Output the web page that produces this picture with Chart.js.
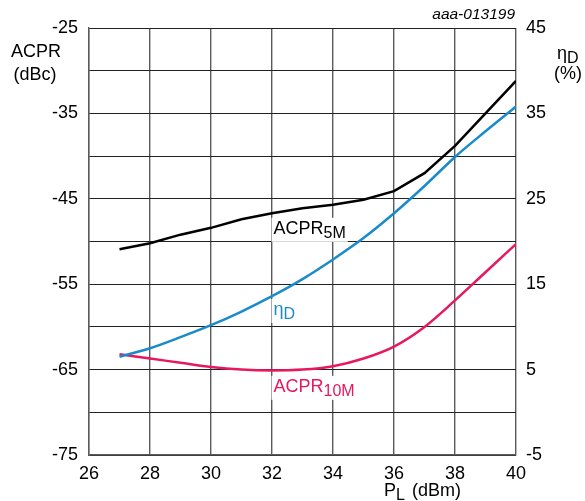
<!DOCTYPE html>
<html>
<head>
<meta charset="utf-8">
<script src="https://cdn.jsdelivr.net/npm/chart.js@4/dist/chart.umd.min.js"></script>
<style>
  html, body { margin: 0; padding: 0; background: #fff; }
</style>
</head>
<body>
<canvas id="chart" width="585" height="501"></canvas>
<script>
// output power PL (dBm)
const powerLevels = [27, 28, 29, 30, 31, 32, 33, 34, 35, 36, 37, 38, 39, 40];
// ACPR 5 MHz (dBc)
const acpr5M = [-50.9, -50.2, -49.2, -48.4, -47.4, -46.7, -46.1, -45.7, -45.1, -44.1, -42.0, -38.8, -35.0, -31.2];
// ACPR 10 MHz (dBc)
const acpr10M = [-63.2, -63.7, -64.2, -64.7, -65.0, -65.1, -65.0, -64.6, -63.7, -62.3, -60.0, -56.9, -53.6, -50.3];
// drain efficiency (%)
const drainEff = [6.5, 7.5, 8.8, 10.2, 11.8, 13.6, 15.6, 17.9, 20.4, 23.3, 26.5, 29.9, 32.9, 35.8];

const xTicks = [26, 28, 30, 32, 34, 36, 38, 40];
const acprTicks = [-75, -65, -55, -45, -35, -25];
const effTicks = [-5, 5, 15, 25, 35, 45];

const FONT = "Liberation Sans, Arial, sans-serif";
const gridColor = "#5a5a5a";

function toPoints(ys) {
  return powerLevels.map((x, i) => ({ x: x, y: ys[i] }));
}

// text with optional subscript, white box behind when asked
function drawSub(ctx, x, y, main, sub, color, size, box) {
  ctx.save();
  ctx.font = size + "px " + FONT;
  const w1 = ctx.measureText(main).width;
  ctx.font = (size - 2) + "px " + FONT;
  const w2 = sub ? ctx.measureText(sub).width : 0;
  if (box) {
    ctx.fillStyle = "#fff";
    ctx.fillRect(x - 2, y - size + 2, w1 + w2 + 4, size + 6);
  }
  ctx.fillStyle = color;
  ctx.textBaseline = "alphabetic";
  ctx.textAlign = "left";
  ctx.font = size + "px " + FONT;
  ctx.fillText(main, x, y);
  if (sub) {
    ctx.font = (size - 2) + "px " + FONT;
    ctx.fillText(sub, x + w1, y + 4);
  }
  ctx.restore();
}

const labelsPlugin = {
  id: "labels",
  afterDatasetsDraw(chart) {
    const ctx = chart.ctx;
    const xs = chart.scales.x;
    const ys = chart.scales.y;
    // series labels placed in data space
    drawSub(ctx, xs.getPixelForValue(32.05), ys.getPixelForValue(-49.1), "ACPR", "5M", "#000", 18, true);
    drawSub(ctx, xs.getPixelForValue(32.05), ys.getPixelForValue(-58.6), "η", "D", "#1a8bc9", 18, true);
    drawSub(ctx, xs.getPixelForValue(32.05), ys.getPixelForValue(-67.6), "ACPR", "10M", "#e8185f", 18, true);
  },
  afterDraw(chart) {
    const ctx = chart.ctx;
    ctx.save();
    ctx.fillStyle = "#000";
    ctx.font = "italic 15.5px " + FONT;
    ctx.textAlign = "right";
    ctx.textBaseline = "middle";
    ctx.fillText("aaa-013199", 515, 15);

    ctx.font = "18px " + FONT;
    ctx.textAlign = "center";
    ctx.fillText("ACPR", 36, 52);
    ctx.fillText("(dBc)", 35, 75);
    ctx.fillText("(%)", 568, 74);
    ctx.restore();

    drawSub(ctx, 557, 59, "η", "D", "#000", 18, false);
    drawSub(ctx, 384, 496, "P", "L", "#000", 18, false);
    ctx.save();
    ctx.font = "18px " + FONT;
    ctx.fillStyle = "#000";
    ctx.fillText("(dBm)", 412, 496);
    ctx.restore();
  }
};

new Chart(document.getElementById("chart").getContext("2d"), {
  type: "line",
  data: {
    datasets: [
      {
        label: "ACPR5M",
        data: toPoints(acpr5M),
        borderColor: "#000",
        borderWidth: 2.5,
        pointRadius: 0,
        tension: 0,
        yAxisID: "y",
      },
      {
        label: "ηD",
        data: toPoints(drainEff),
        borderColor: "#1a8bc9",
        borderWidth: 2.5,
        pointRadius: 0,
        cubicInterpolationMode: "monotone",
        yAxisID: "y2",
      },
      {
        label: "ACPR10M",
        data: toPoints(acpr10M),
        borderColor: "#e8185f",
        borderWidth: 2.5,
        pointRadius: 0,
        cubicInterpolationMode: "monotone",
        yAxisID: "y",
      },
    ],
  },
  options: {
    responsive: false,
    animation: false,
    devicePixelRatio: 1,
    layout: { padding: { top: 28, left: 0, right: 0, bottom: 0 } },
    plugins: {
      legend: { display: false },
      tooltip: { enabled: false },
    },
    scales: {
      x: {
        type: "linear",
        min: 26,
        max: 40,
        afterBuildTicks: (axis) => { axis.ticks = xTicks.map((v) => ({ value: v })); },
        afterFit: (axis) => { axis.height = 46; },
        ticks: { color: "#000", font: { family: FONT, size: 18 }, padding: 8, maxRotation: 0 },
        grid: { color: gridColor, lineWidth: 1.4, drawTicks: false },
        border: { color: gridColor, width: 1.4 },
      },
      y: {
        position: "left",
        min: -75,
        max: -25,
        ticks: {
          stepSize: 5,
          color: "#000",
          font: { family: FONT, size: 18 },
          padding: 11,
          callback: (v) => (acprTicks.includes(v) ? String(v) : ""),
        },
        afterFit: (axis) => { axis.width = 89; },
        grid: { color: "#222", lineWidth: 1, drawTicks: false },
        border: { color: gridColor, width: 1.4 },
      },
      y2: {
        position: "right",
        min: -5,
        max: 45,
        afterBuildTicks: (axis) => { axis.ticks = effTicks.map((v) => ({ value: v })); },
        ticks: { color: "#000", font: { family: FONT, size: 18 }, padding: 10 },
        afterFit: (axis) => { axis.width = 69; },
        grid: { display: false, drawTicks: false },
        border: { display: false },
      },
    },
  },
  plugins: [labelsPlugin],
});
</script>
</body>
</html>
